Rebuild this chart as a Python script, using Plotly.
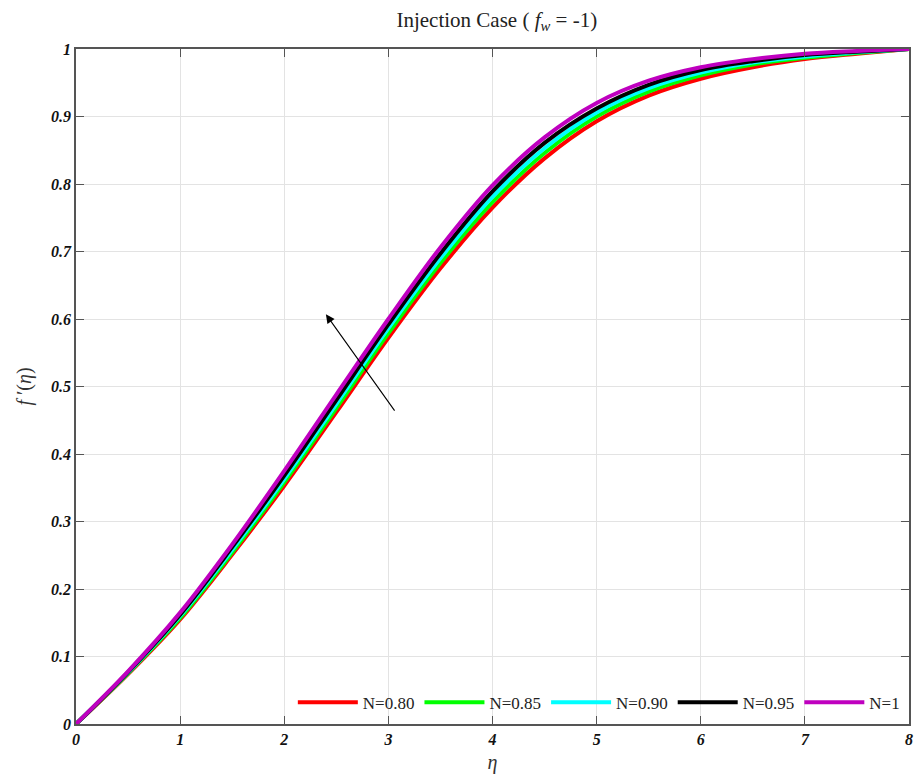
import plotly.graph_objects as go

eta = [0, 0.5, 1, 1.5, 2, 2.5, 3, 3.5, 4, 4.5, 5, 5.5, 6, 6.5, 7, 7.5, 8]

f_N080 = [0, 0.074, 0.155, 0.251, 0.353, 0.462, 0.572, 0.675, 0.765, 0.838, 0.893, 0.931, 0.956, 0.973, 0.985, 0.993, 1.0]
f_N085 = [0, 0.075, 0.157, 0.254, 0.358, 0.468, 0.579, 0.683, 0.773, 0.846, 0.900, 0.937, 0.961, 0.977, 0.987, 0.994, 1.0]
f_N090 = [0, 0.076, 0.160, 0.258, 0.363, 0.474, 0.586, 0.690, 0.781, 0.853, 0.906, 0.942, 0.965, 0.980, 0.989, 0.995, 1.0]
f_N095 = [0, 0.077, 0.162, 0.262, 0.368, 0.480, 0.592, 0.697, 0.789, 0.861, 0.912, 0.947, 0.969, 0.982, 0.991, 0.996, 1.0]
f_N100 = [0, 0.078, 0.165, 0.266, 0.375, 0.488, 0.600, 0.706, 0.798, 0.869, 0.920, 0.953, 0.973, 0.985, 0.993, 0.997, 1.0]

series = [
    ("N=0.80", f_N080, "#FF0000"),
    ("N=0.85", f_N085, "#00FF00"),
    ("N=0.90", f_N090, "#00FFFF"),
    ("N=0.95", f_N095, "#000000"),
    ("N=1", f_N100, "#BF00BF"),
]

x_ticks = [0, 1, 2, 3, 4, 5, 6, 7, 8]
y_ticks = [0, 0.1, 0.2, 0.3, 0.4, 0.5, 0.6, 0.7, 0.8, 0.9, 1]
y_tick_labels = ["0", "0.1", "0.2", "0.3", "0.4", "0.5", "0.6", "0.7", "0.8", "0.9", "1"]

fig = go.Figure()
for name, vals, col in series:
    fig.add_trace(go.Scatter(x=eta, y=vals, name=name, mode="lines",
                             line=dict(color=col, width=4, shape="spline", smoothing=1.0)))

serif = "Liberation Serif"
tickfont = dict(family=serif, size=16, color="#111", style="italic", weight="bold")

axis_common = dict(
    showline=True, linecolor="#555", linewidth=1.5, mirror="ticks",
    ticks="inside", ticklen=8, tickcolor="#555", tickwidth=1.2,
    showgrid=True, gridcolor="#E3E3E3", gridwidth=1,
    zeroline=False, tickfont=tickfont,
)

fig.update_xaxes(range=[0, 8], tickvals=x_ticks, ticktext=[str(v) for v in x_ticks],
                 title=dict(text="<i>η</i>", font=dict(family=serif, size=20, color="#333"), standoff=8),
                 **axis_common)
fig.update_yaxes(range=[0, 1], tickvals=y_ticks, ticktext=y_tick_labels,
                 title=dict(text="<i>f</i> ′(<i>η</i>)", font=dict(family=serif, size=20, color="#333"), standoff=14),
                 **axis_common)

fig.add_annotation(x=2.40, y=0.607, ax=3.07, ay=0.462, xref="x", yref="y", axref="x", ayref="y",
                   showarrow=True, arrowhead=2, arrowsize=1.6, arrowwidth=1.1, arrowcolor="#000", text="")

fig.update_layout(
    width=920, height=781,
    margin=dict(l=76, r=7, t=49, b=57),
    paper_bgcolor="white", plot_bgcolor="white",
    title=dict(text="Injection Case ( <i>f</i><sub><i>w</i></sub> = -1)", x=0.54, xanchor="center",
               y=0.975, yanchor="middle", font=dict(family=serif, size=21, color="#222")),
    legend=dict(orientation="h", x=0.995, xanchor="right", y=0.005, yanchor="bottom",
                bgcolor="rgba(255,255,255,0)", font=dict(family=serif, size=17, color="#222"),
                itemwidth=60, tracegroupgap=0),
    showlegend=True,
)

fig.write_html("out.html")
